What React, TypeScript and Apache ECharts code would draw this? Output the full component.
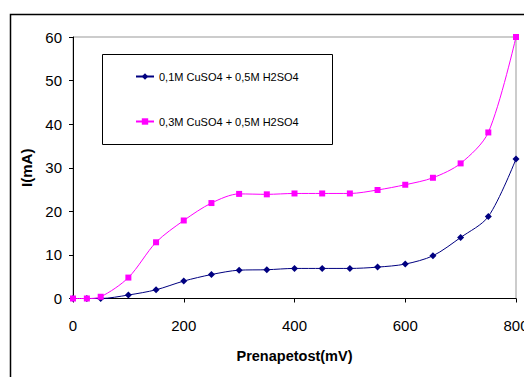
import React, { useEffect, useRef } from "react";
import * as echarts from "echarts";

const voltages = [0, 25, 50, 100, 150, 200, 250, 300, 350, 400, 450, 500, 550, 600, 650, 700, 750, 800];
const series01 = [0, 0, 0, 0.8, 2.0, 4.0, 5.5, 6.5, 6.6, 6.9, 6.9, 6.9, 7.2, 7.9, 9.8, 14.0, 18.8, 32.0];
const series03 = [0, 0, 0.4, 4.8, 12.9, 17.9, 21.9, 24.0, 23.9, 24.1, 24.1, 24.1, 24.9, 26.1, 27.7, 31.0, 38.1, 60.0];
const seriesNames = ["0,1M CuSO4 + 0,5M H2SO4", "0,3M CuSO4 + 0,5M H2SO4"];
const xTicks = { min: 0, max: 800, interval: 200 };
const yTicks = { min: 0, max: 60, interval: 10 };
const xName = "Prenapetost(mV)";
const yName = "I(mA)";

const FONT = "'Liberation Sans', Arial, sans-serif";

export default function App() {
  const ref = useRef<HTMLDivElement>(null);
  useEffect(() => {
    if (!ref.current) return;
    const chart = echarts.init(ref.current, undefined, { renderer: "svg" });
    const pair = (ys: number[]) => voltages.map((v, i) => [v, ys[i]]);
    chart.setOption({
      animation: false,
      backgroundColor: "#ffffff",
      textStyle: { fontFamily: FONT },
      grid: {
        left: 73,
        right: 8,
        top: 37,
        bottom: 78.5,
        containLabel: false,
        outerBoundsMode: "none",
        show: true,
        borderColor: "#999999",
        borderWidth: 1,
        backgroundColor: "transparent",
      },
      graphic: [
        {
          type: "rect",
          shape: { x: 10.5, y: 14.5, width: 600, height: 500 },
          style: { fill: "none", stroke: "#000", lineWidth: 1.5 },
          silent: true,
          z: 0,
        },
        {
          type: "rect",
          shape: { x: 102.5, y: 54.5, width: 230, height: 90 },
          style: { fill: "#fff", stroke: "#000", lineWidth: 1 },
          silent: true,
          z: 5,
        },
      ],
      legend: [
        {
          data: [seriesNames[0]],
          left: 135,
          top: 71,
          itemWidth: 18,
          itemHeight: 8,
          itemGap: 5,
          padding: 0,
          textStyle: { fontSize: 11, color: "#000", fontFamily: FONT },
          z: 10,
        },
        {
          data: [seriesNames[1]],
          left: 135,
          top: 116,
          itemWidth: 18,
          itemHeight: 8,
          itemGap: 5,
          padding: 0,
          textStyle: { fontSize: 11, color: "#000", fontFamily: FONT },
          z: 10,
        },
      ],
      xAxis: {
        type: "value",
        min: xTicks.min,
        max: xTicks.max,
        interval: xTicks.interval,
        name: xName,
        nameLocation: "middle",
        nameGap: 50,
        nameTextStyle: { fontSize: 14.5, fontWeight: "bold", color: "#000", fontFamily: FONT },
        axisLine: { lineStyle: { color: "#000", width: 1 } },
        axisTick: { show: true, inside: false, length: 4, lineStyle: { color: "#000" } },
        axisLabel: { fontSize: 15, color: "#000", margin: 19, fontFamily: FONT },
        splitLine: { show: false },
      },
      yAxis: {
        type: "value",
        min: yTicks.min,
        max: yTicks.max,
        interval: yTicks.interval,
        name: yName,
        nameLocation: "middle",
        nameGap: 34,
        nameTextStyle: { fontSize: 15, fontWeight: "bold", color: "#000", fontFamily: FONT },
        axisLine: { show: true, lineStyle: { color: "#000", width: 1 } },
        axisTick: { show: true, inside: false, length: 4, lineStyle: { color: "#000" } },
        axisLabel: { fontSize: 15, color: "#000", margin: 11, fontFamily: FONT },
        splitLine: { show: false },
      },
      series: [
        {
          name: seriesNames[0],
          type: "line",
          data: pair(series01),
          smooth: 0.3,
          symbol: "diamond",
          symbolSize: 7,
          clip: false,
          lineStyle: { color: "#000080", width: 1 },
          itemStyle: { color: "#000080" },
          z: 3,
        },
        {
          name: seriesNames[1],
          type: "line",
          data: pair(series03),
          smooth: 0.3,
          symbol: "rect",
          symbolSize: 6,
          clip: false,
          lineStyle: { color: "#FF00FF", width: 1 },
          itemStyle: { color: "#FF00FF" },
          z: 4,
        },
      ],
    });
    return () => chart.dispose();
  }, []);
  return (
    <div
      ref={ref}
      style={{ position: "fixed", left: 0, top: 0, width: 524, height: 377 }}
    />
  );
}
